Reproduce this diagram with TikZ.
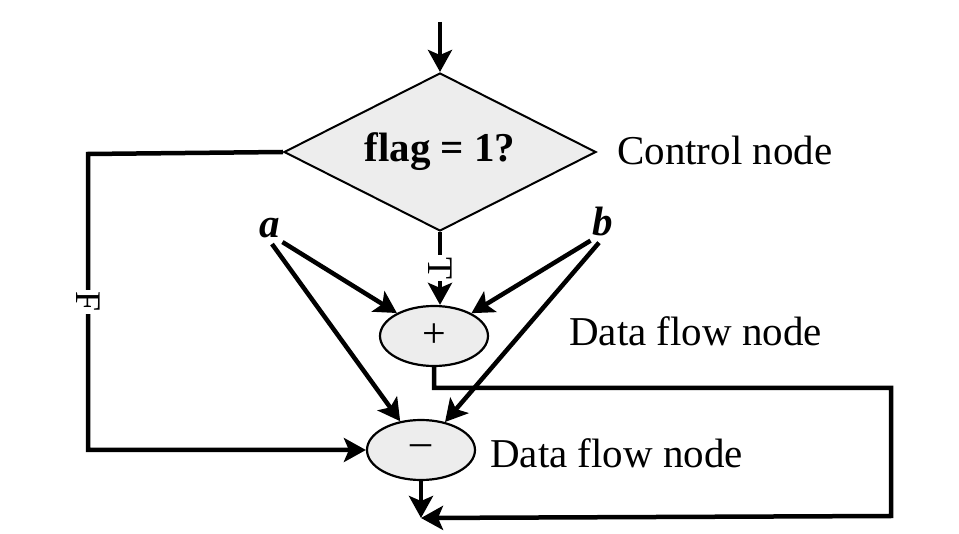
\documentclass[tikz,border=0pt]{standalone}
\usepackage{fontspec}
\setmainfont{Liberation Serif}
\usetikzlibrary{shapes.geometric,arrows.meta}
\begin{document}
\begin{tikzpicture}[x=1pt,y=-1pt,
  conn/.style={line width=4.5pt},
  arr/.style={conn,-{Stealth[length=22pt,width=24pt,inset=5pt]}},
  dia/.style={diamond,draw,line width=2pt,fill=gray!14,minimum width=312pt,minimum height=158pt,inner sep=0pt},
  dfn/.style={ellipse,draw,line width=2.2pt,fill=gray!14,minimum width=108pt,minimum height=60pt,inner sep=0pt,font=\fontsize{42}{44}\selectfont},
  txt/.style={font=\fontsize{41}{48}\selectfont,inner sep=0pt},
  var/.style={font=\fontsize{41}{48}\selectfont\bfseries\itshape,inner sep=0pt},
  lbl/.style={font=\fontsize{36}{38}\selectfont,rotate=-90,fill=white,inner sep=2pt}]
\useasboundingbox[fill=white] (0,0) rectangle (959,534);
% nodes
\node[dia] (ctl) at (440,152) {};
\node[txt,font=\fontsize{41}{48}\selectfont\bfseries] (flag) at (ctl) {flag = 1?};
\node[txt,anchor=west] (cn) at (617,150) {Control node};
\node[dfn] (plus) at (434,336) {+};
\node[dfn] (minus) at (421,450) {–};
\node[txt,anchor=west] (d1) at (569,331) {Data flow node};
\node[txt,anchor=west] (d2) at (490,453) {Data flow node};
\node[var] (a) at (270,228) {a};
\node[var] (b) at (603,222) {b};
% coordinates
\coordinate (top) at (440,22);
\coordinate (lc) at (88,154);
\coordinate (rc1) at (891,388);
\coordinate (rc2) at (891,516);
\coordinate (out) at (421,518);
% connectors
\draw[arr] (top) -- (ctl.north);
\draw[arr] (ctl.south) -- node[lbl]{T} (ctl.south |- plus.north);
\draw[arr] (ctl.west) -- (lc) -- node[lbl,pos=0.5]{F} (lc |- minus) -- (minus.west);
\draw[arr] (a.south east) ++(2,4) -- (plus);
\draw[arr] (a.south) ++(2,6) -- (minus);
\draw[arr] (b.south west) ++(-2,4) -- (plus);
\draw[arr] (b.south) ++(-4,6) -- (minus);
\draw[arr] (minus.south) -- (out);
\draw[arr] (plus.south) |- (rc1) -- (rc2) -- (out);
\end{tikzpicture}
\end{document}
